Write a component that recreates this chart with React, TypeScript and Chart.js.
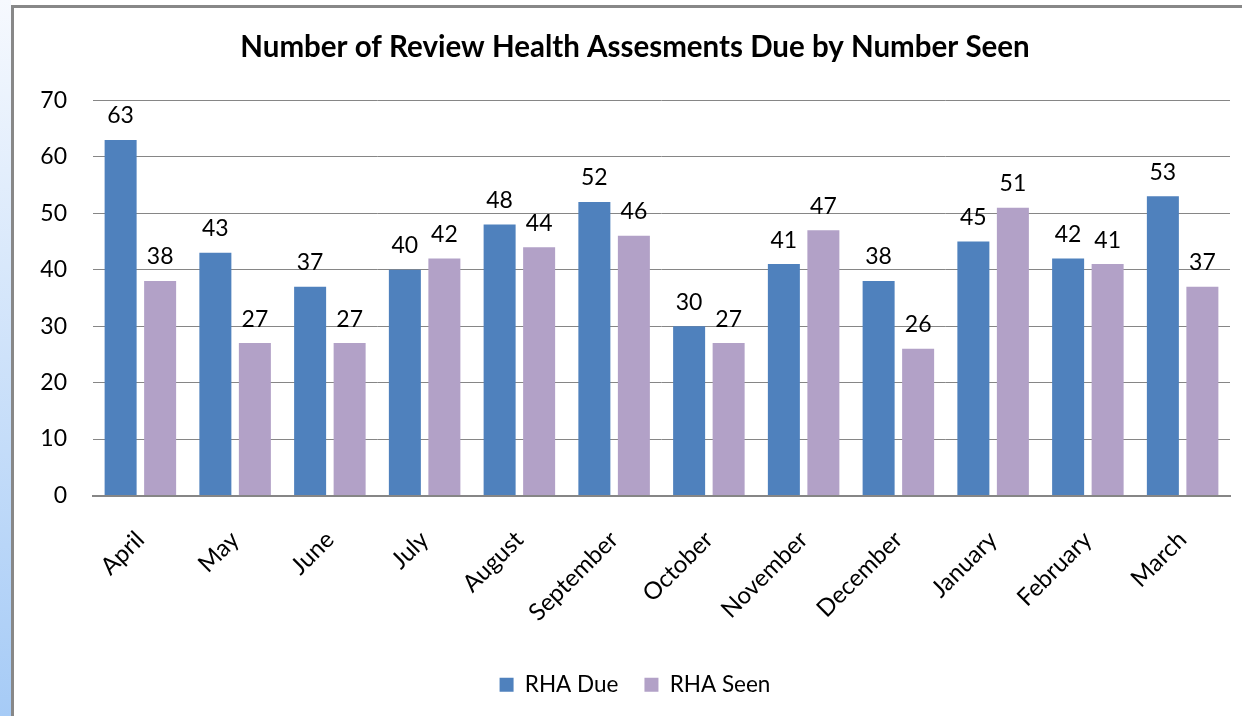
import React, { useEffect, useRef } from "react";
import { Chart, registerables } from "chart.js";

Chart.register(...registerables);

const months = ["April", "May", "June", "July", "August", "September", "October", "November", "December", "January", "February", "March"];
const rhaDue = [63, 43, 37, 40, 48, 52, 30, 41, 38, 45, 42, 53];
const rhaSeen = [38, 27, 27, 42, 44, 46, 27, 47, 26, 51, 41, 37];
const yTicks = [0, 10, 20, 30, 40, 50, 60, 70];

const FONT = "Lato, 'Open Sans', sans-serif";

const valueLabels = {
  id: "valueLabels",
  afterDatasetsDraw(chart: any) {
    const ctx = chart.ctx;
    ctx.save();
    ctx.font = `23px ${FONT}`;
    ctx.fillStyle = "#000";
    ctx.textAlign = "center";
    ctx.textBaseline = "middle";
    chart.data.datasets.forEach((ds: any, i: number) => {
      const meta = chart.getDatasetMeta(i);
      meta.data.forEach((el: any, j: number) => {
        ctx.fillText(String(ds.data[j]), el.x, el.y - 24);
      });
    });
    ctx.restore();
  },
};

export default function App() {
  const ref = useRef<HTMLCanvasElement>(null);
  useEffect(() => {
    const chart = new Chart(ref.current!, {
      type: "bar",
      data: {
        labels: months,
        datasets: [
          { label: "RHA Due", data: rhaDue, backgroundColor: "#4F81BD", categoryPercentage: 0.834, barPercentage: 0.81 },
          { label: "RHA Seen", data: rhaSeen, backgroundColor: "#B2A1C7", categoryPercentage: 0.834, barPercentage: 0.81 },
        ],
      },
      options: {
        responsive: false,
        animation: false,
        layout: { padding: { left: 14, right: 0, top: 0, bottom: 10 } },
        plugins: {
          title: {
            display: true,
            text: "Number of Review Health Assesments Due by Number Seen",
            color: "#000",
            font: { family: FONT, size: 29.5, weight: "bold" },
            padding: { top: 22, bottom: 35 },
          },
          legend: {
            position: "bottom",
            labels: {
              color: "#000",
              font: { family: FONT, size: 22.5 },
              boxWidth: 14,
              boxHeight: 14,
              padding: 26,
            },
          },
          tooltip: { enabled: false },
        },
        scales: {
          x: {
            grid: { display: false },
            border: { display: true, color: "#868686", width: 2 },
            ticks: {
              color: "#000",
              font: { family: FONT, size: 24 },
              minRotation: 45,
              maxRotation: 45,
              padding: 22,
            },
            afterFit: (scale: any) => {
              scale.height = 152;
            },
          },
          y: {
            min: 0,
            max: 70,
            afterBuildTicks: (scale: any) => {
              scale.ticks = yTicks.map((v) => ({ value: v }));
            },
            grid: { color: "#868686", drawTicks: false },
            border: { display: false },
            ticks: {
              color: "#000",
              font: { family: FONT, size: 23 },
              padding: 26,
            },
            afterFit: (scale: any) => {
              scale.width = 65;
            },
          },
          y2: {
            type: "linear",
            position: "right",
            display: true,
            grid: { display: false },
            border: { display: false },
            ticks: { display: false },
            afterFit: (scale: any) => {
              scale.width = 12;
            },
          },
        },
      },
      plugins: [valueLabels],
    });
    return () => chart.destroy();
  }, []);

  return (
    <div style={{ position: "fixed", left: 0, top: 0, width: 1242, height: 716, background: "#fff", overflow: "hidden" }}>
      <div style={{ position: "absolute", left: 0, top: 0, width: 11, height: 716, background: "linear-gradient(to bottom, #f6f9fe, #a6cbf6)" }} />
      <div style={{ position: "absolute", left: 11, top: 5, width: 1231, height: 711, borderLeft: "3px solid #888", borderTop: "3px solid #888", boxSizing: "border-box" }} />
      <canvas ref={ref} width={1228} height={708} style={{ position: "absolute", left: 14, top: 8, width: 1228, height: 708 }} />
    </div>
  );
}
